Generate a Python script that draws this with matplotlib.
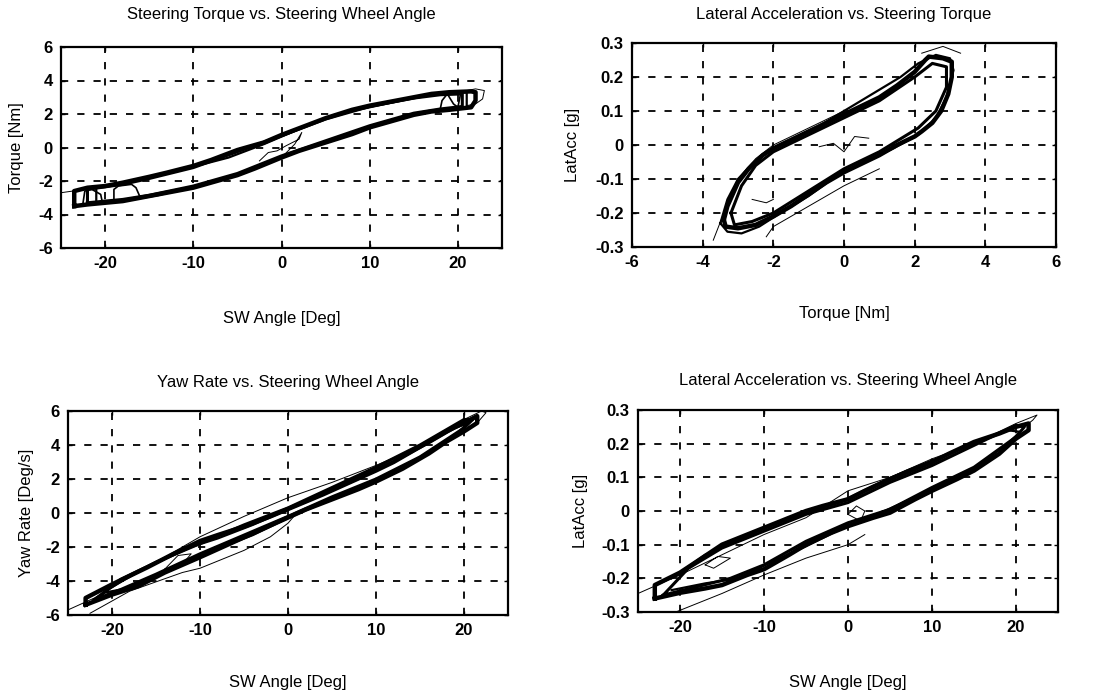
import matplotlib
matplotlib.use("Agg")
import matplotlib.pyplot as plt

plt.rcParams['font.family'] = ['Liberation Sans', 'DejaVu Sans']
plt.rcParams['axes.unicode_minus'] = False

# ---------------- Panel 1: Steering Torque vs SW angle ----------------
p1_main_x = [-23.5, -22, -20, -18, -15, -12, -10, -7, -5, -3, 0, 2, 5, 8, 10, 13, 15, 17, 19, 21.5,
             22, 22, 21.5, 19, 17, 15, 12, 10, 8, 5, 3, 0, -2, -5, -8, -10, -13, -15, -18, -20, -22, -23.5, -23.5]
p1_main_y = [-3.5, -3.4, -3.3, -3.2, -2.9, -2.6, -2.4, -1.95, -1.65, -1.25, -0.6, -0.2, 0.3, 0.8, 1.2, 1.65, 1.95, 2.15, 2.25, 2.4,
             2.8, 3.3, 3.35, 3.3, 3.2, 3.0, 2.7, 2.5, 2.25, 1.75, 1.35, 0.75, 0.3, -0.15, -0.75, -1.1, -1.5, -1.75, -2.1, -2.3, -2.4, -2.6, -3.5]
p1_cyc2_x = [-22, -20, -18, -15, -10, -5, 0, 5, 10, 15, 18, 20.5, 20.5, 18, 15, 10, 5, 0, -5, -10, -15, -18, -20, -22, -22]
p1_cyc2_y = [-3.3, -3.2, -3.1, -2.85, -2.3, -1.55, -0.5, 0.4, 1.3, 2.05, 2.3, 2.45, 3.2, 3.15, 2.95, 2.45, 1.7, 0.7, -0.25, -1.2, -1.85, -2.2, -2.35, -2.5, -3.3]
p1_cyc3_x = [-21, -18, -14, -10, -6, -2, 1, 4, 8, 12, 16, 19, 21, 21, 18, 14, 10, 6, 2, -2, -6, -10, -14, -18, -21, -21]
p1_cyc3_y = [-3.35, -3.2, -2.85, -2.35, -1.8, -1.0, -0.4, 0.15, 0.85, 1.55, 2.1, 2.3, 2.35, 3.3, 3.25, 2.85, 2.4, 1.95, 1.1, 0.2, -0.6, -1.15, -1.65, -2.15, -2.4, -3.35]
p1_hooks_x = [-19, -19, -18.5, -17, -16.5, -16, None, 18, 18.2, 18.8, 19.5, 20, 20.3, None, -22.5, -22.3, -21.5, -20.5, -20.3]
p1_hooks_y = [-3.1, -2.5, -2.3, -2.2, -2.4, -3.0, None, 2.3, 2.8, 3.2, 2.6, 2.4, 3.2, None, -3.3, -2.6, -2.5, -2.8, -3.3]
p1_thin_x = [-25, -23, -21, None, 20, 22, 23, 22.8, 22, 21, None, -2.5, -1.5, -0.5, 0.5, 2, 2.3, 1.5, 0, -2]
p1_thin_y = [-2.7, -2.55, -2.4, None, 3.3, 3.5, 3.4, 2.9, 2.6, 2.5, None, -0.8, -0.3, -0.2, 0.1, 0.5, 0.9, 0.2, -0.6, -1.0]

# ---------------- Panel 2: LatAcc vs Torque ----------------
p2_main_x = [-3.4, -3.3, -3.0, -2.7, -2.3, -2.0, -1.5, -1.0, -0.5, 0.0, 0.5, 1.0, 1.5, 2.0, 2.3, 2.4, 2.8, 3.05,
             3.05, 2.95, 2.75, 2.5, 2.2, 2.0, 1.5, 1.0, 0.5, 0.0, -0.5, -1.0, -1.5, -2.0, -2.5, -3.0, -3.35, -3.4]
p2_main_y = [-0.22, -0.18, -0.11, -0.07, -0.03, -0.01, 0.015, 0.04, 0.065, 0.09, 0.115, 0.14, 0.175, 0.215, 0.25, 0.26, 0.255, 0.245,
             0.2, 0.15, 0.1, 0.065, 0.04, 0.025, 0.0, -0.03, -0.055, -0.08, -0.11, -0.145, -0.18, -0.21, -0.235, -0.245, -0.24, -0.22]
p2_cyc2_x = [-3.2, -2.9, -2.5, -2.0, -1.0, 0.0, 1.0, 2.0, 2.5, 2.9, 2.9, 2.6, 2.1, 1.0, 0.0, -1.0, -2.0, -2.6, -3.1, -3.2]
p2_cyc2_y = [-0.2, -0.12, -0.06, -0.02, 0.03, 0.08, 0.13, 0.2, 0.24, 0.23, 0.17, 0.1, 0.05, -0.02, -0.07, -0.135, -0.2, -0.225, -0.235, -0.2]
p2_cyc3_x = [-3.5, -3.3, -3.0, -2.6, -2.2, -1.6, -0.8, 0.0, 0.8, 1.6, 2.1, 2.6, 3.0, 3.1, 2.9, 2.6, 2.1, 1.4, 0.6, -0.2, -1.0, -1.8, -2.4, -2.9, -3.3, -3.5]
p2_cyc3_y = [-0.23, -0.16, -0.1, -0.055, -0.02, 0.01, 0.05, 0.1, 0.15, 0.2, 0.24, 0.265, 0.255, 0.22, 0.14, 0.08, 0.03, -0.01, -0.05, -0.09, -0.15, -0.2, -0.24, -0.26, -0.255, -0.23]
p2_thin_x = [-3.7, -3.4, -3.0, -2.5, -2.0, -1.0, 0.0, None, 2.2, 2.8, 3.3, None, 1.0, 0.0, -1.0, -2.0, -2.2,
             None, -0.7, -0.3, 0.0, 0.3, 0.7, None, -2.6, -2.2, -2.0]
p2_thin_y = [-0.28, -0.2, -0.1, -0.04, 0.0, 0.05, 0.1, None, 0.27, 0.29, 0.27, None, -0.07, -0.12, -0.18, -0.24, -0.27,
             None, -0.005, 0.005, -0.02, 0.025, 0.02, None, -0.16, -0.17, -0.16]

# ---------------- Panel 3: Yaw rate vs SW angle ----------------
p3_main_x = [-23, -20, -17, -14, -10, -7, -4, -1, 2, 5, 8, 10, 13, 16, 18, 20, 21.5,
             21.5, 20, 18, 15, 12, 10, 7, 4, 1, -2, -5, -8, -10, -13, -16, -18, -20, -23, -23]
p3_main_y = [-5.4, -4.8, -4.3, -3.5, -2.6, -1.9, -1.2, -0.5, 0.2, 0.8, 1.4, 1.85, 2.6, 3.5, 4.2, 4.8, 5.3,
             5.7, 5.3, 4.8, 3.9, 3.0, 2.5, 1.8, 1.1, 0.45, -0.2, -0.8, -1.3, -1.65, -2.4, -3.2, -3.7, -4.2, -5.0, -5.4]
p3_cyc2_x = [-22, -19, -15, -10, -5, 0, 5, 10, 15, 20, 21, 20, 15, 10, 5, 0, -5, -10, -15, -19, -22]
p3_cyc2_y = [-5.1, -4.5, -3.6, -2.4, -1.3, -0.2, 0.95, 2.0, 3.3, 5.0, 5.5, 5.5, 4.0, 2.7, 1.5, 0.3, -0.7, -1.8, -2.9, -3.9, -5.1]
p3_cyc3_x = [-21, -18, -14, -11, -8, -4, 0, 4, 8, 12, 16, 19, 20.5, 19, 16, 12, 8, 4, 0, -4, -8, -11, -14, -18, -21]
p3_cyc3_y = [-4.7, -4.4, -3.4, -2.8, -2.1, -1.3, -0.3, 0.6, 1.5, 2.4, 3.6, 4.6, 5.3, 5.0, 4.1, 3.0, 2.0, 1.1, 0.2, -0.7, -1.5, -2.0, -2.7, -3.7, -4.7]
p3_thin_x = [-25, -22, -15, -10, -5, 0, 5, 10, 15, 20, 22, 22.5, 21.5, None, -22.5, -18, -12, -10, -5, -2, 0, 1,
             None, -14, -12.5, -11, -12, -14]
p3_thin_y = [-5.7, -5.0, -2.9, -1.4, -0.2, 0.9, 1.8, 2.8, 3.9, 5.5, 6.0, 5.9, 5.3, None, -5.9, -4.6, -3.5, -3.25, -2.2, -1.4, -0.6, 0.0,
             None, -3.3, -2.5, -2.4, -3.0, -3.3]

# ---------------- Panel 4: LatAcc vs SW angle ----------------
p4_main_x = [-23, -20, -17, -15, -12, -10, -7, -5, -2, 0, 3, 5, 8, 10, 13, 15, 18, 20, 21.5,
             21.5, 20, 18, 15, 12, 10, 7, 5, 2, 0, -3, -5, -8, -10, -13, -15, -18, -20, -23, -23]
p4_main_y = [-0.26, -0.243, -0.23, -0.22, -0.19, -0.173, -0.13, -0.1, -0.065, -0.045, -0.02, -0.005, 0.035, 0.06, 0.095, 0.12, 0.17, 0.215, 0.24,
             0.26, 0.25, 0.23, 0.205, 0.17, 0.145, 0.115, 0.095, 0.06, 0.035, 0.015, 0.0, -0.03, -0.05, -0.08, -0.1, -0.15, -0.183, -0.22, -0.26]
p4_cyc2_x = [-22, -18, -14, -10, -5, 0, 5, 10, 15, 20, 21, 20, 15, 10, 5, 0, -5, -10, -15, -19, -22]
p4_cyc2_y = [-0.25, -0.225, -0.2, -0.16, -0.09, -0.035, 0.005, 0.07, 0.13, 0.22, 0.25, 0.255, 0.195, 0.135, 0.085, 0.025, -0.01, -0.06, -0.11, -0.17, -0.25]
p4_cyc3_x = [-21, -17, -13, -9, -5, -1, 3, 7, 11, 15, 19, 20.5, 19, 15, 11, 7, 3, -1, -5, -9, -13, -17, -21]
p4_cyc3_y = [-0.235, -0.215, -0.2, -0.15, -0.105, -0.055, -0.015, 0.03, 0.08, 0.125, 0.2, 0.235, 0.24, 0.2, 0.16, 0.12, 0.075, 0.025, -0.005, -0.04, -0.085, -0.13, -0.2]
p4_thin_x = [-25, -20, -15, -10, -5, 0, 5, 10, 15, 20, 22.5, 22, 21, None, -20.5, -15, -10, -5, 0, 2,
             None, -17, -15.5, -14, -16, -17, None, 0, 1, 2, 1.5, 0]
p4_thin_y = [-0.245, -0.19, -0.13, -0.07, -0.02, 0.06, 0.1, 0.155, 0.2, 0.26, 0.285, 0.27, 0.25, None, -0.3, -0.245, -0.19, -0.14, -0.1, -0.07,
             None, -0.16, -0.135, -0.14, -0.17, -0.16, None, -0.01, 0.015, 0.0, -0.03, -0.01]

titles = ["Steering Torque vs. Steering Wheel Angle",
          "Lateral Acceleration vs. Steering Torque",
          "Yaw Rate vs. Steering Wheel Angle",
          "Lateral Acceleration vs. Steering Wheel Angle"]
xlabels = ["SW Angle [Deg]", "Torque [Nm]", "SW Angle [Deg]", "SW Angle [Deg]"]
ylabels = ["Torque [Nm]", "LatAcc [g]", "Yaw Rate [Deg/s]", "LatAcc [g]"]
sw_ticks = [-20, -10, 0, 10, 20]
torque_ticks = [-6, -4, -2, 0, 2, 4, 6]
yaw_ticks = [-6, -4, -2, 0, 2, 4, 6]
g_ticks = [-0.3, -0.2, -0.1, 0, 0.1, 0.2, 0.3]
g_ticklabels = ["-0.3", "-0.2", "-0.1", "0", "0.1", "0.2", "0.3"]

W, H = 1093, 696
fig = plt.figure(figsize=(W / 100, H / 100), dpi=100)

# (left, top, right, bottom) pixel boxes
boxes = [(61, 47, 502, 248), (632, 43, 1056, 247), (68, 411, 508, 615), (638, 410, 1058, 612)]
title_y = [15, 15, 382, 380]
xlabel_y = [318, 313, 683, 682]
ylabel_x = [17, 572, 26, 580]

panels = [
    (p1_main_x, p1_main_y, p1_cyc2_x, p1_cyc2_y, p1_cyc3_x, p1_cyc3_y, p1_thin_x, p1_thin_y),
    (p2_main_x, p2_main_y, p2_cyc2_x, p2_cyc2_y, p2_cyc3_x, p2_cyc3_y, p2_thin_x, p2_thin_y),
    (p3_main_x, p3_main_y, p3_cyc2_x, p3_cyc2_y, p3_cyc3_x, p3_cyc3_y, p3_thin_x, p3_thin_y),
    (p4_main_x, p4_main_y, p4_cyc2_x, p4_cyc2_y, p4_cyc3_x, p4_cyc3_y, p4_thin_x, p4_thin_y),
]

for i, (l, t, r, b) in enumerate(boxes):
    ax = fig.add_axes([l / W, (H - b) / H, (r - l) / W, (b - t) / H])
    mx, my, cx, cy, dx, dy, tx, ty = panels[i]
    ax.plot(mx, my, color='k', lw=3.2, solid_joinstyle='round')
    ax.plot(cx, cy, color='k', lw=2.2, solid_joinstyle='round')
    ax.plot(dx, dy, color='k', lw=1.6, solid_joinstyle='round')
    ax.plot(tx, ty, color='k', lw=0.7)
    if i == 0:
        ax.plot(p1_hooks_x, p1_hooks_y, color='k', lw=1.2)

    if i == 1:
        ax.set_xlim(-6, 6)
        ax.set_xticks(torque_ticks)
    else:
        ax.set_xlim(-25, 25)
        ax.set_xticks(sw_ticks)
    if i == 0:
        ax.set_ylim(-6, 6)
        ax.set_yticks(torque_ticks)
    elif i == 2:
        ax.set_ylim(-6, 6)
        ax.set_yticks(yaw_ticks)
    else:
        ax.set_ylim(-0.3, 0.3)
        ax.set_yticks(g_ticks)
        ax.set_yticklabels(g_ticklabels)

    ax.grid(True, color='k', linestyle=(0, (4, 5)), linewidth=1.3)
    ax.tick_params(direction='in', length=3, width=1, top=True, right=True,
                   labelsize=12, pad=6)
    for lab in ax.get_xticklabels() + ax.get_yticklabels():
        lab.set_fontweight('bold')
    for s in ax.spines.values():
        s.set_linewidth(1.6)

    cx_pix = (l + r) / 2
    fig.text(cx_pix / W, 1 - title_y[i] / H, titles[i], ha='center', va='center', fontsize=12)
    ax.set_xlabel(xlabels[i], fontsize=12)
    ax.xaxis.set_label_coords(0.5, (b - xlabel_y[i]) / (b - t))
    ax.xaxis.label.set_va('center')
    ax.set_ylabel(ylabels[i], fontsize=12)
    ax.yaxis.set_label_coords((ylabel_x[i] - l) / (r - l), 0.5)
    ax.yaxis.label.set_va('center')

fig.savefig("out.png", dpi=100)
